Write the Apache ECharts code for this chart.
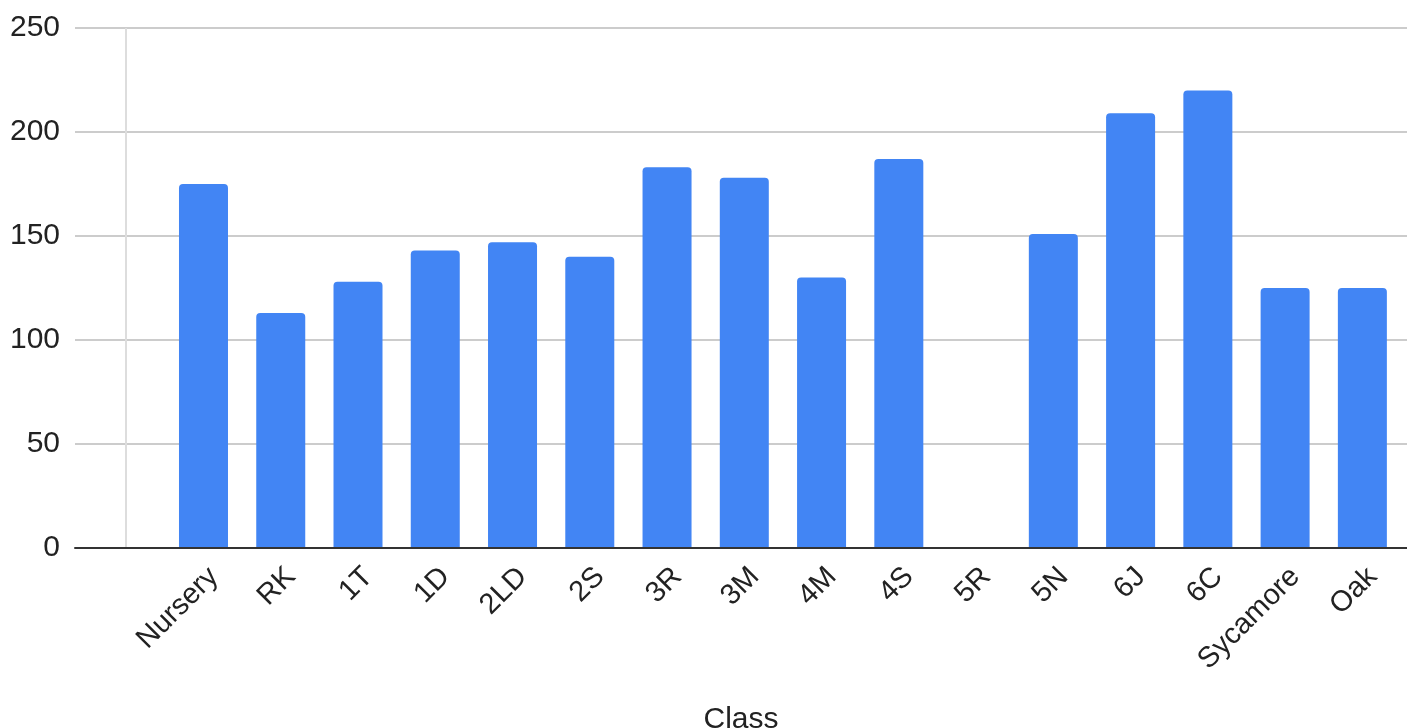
<!DOCTYPE html>
<html>
<head>
<meta charset="utf-8">
<script src="https://cdn.jsdelivr.net/npm/echarts@6/dist/echarts.min.js"></script>
<style>
html,body{margin:0;padding:0;background:#fff;}
#chart{width:1407px;height:728px;}
</style>
</head>
<body>
<div id="chart"></div>
<script>
const categories = ["", "Nursery", "RK", "1T", "1D", "2LD", "2S", "3R", "3M", "4M", "4S", "5R", "5N", "6J", "6C", "Sycamore", "Oak"];
const values = [null, 175, 113, 128, 143, 147, 140, 183, 178, 130, 187, 0, 151, 209, 220, 125, 125];
const yTicks = { min: 0, max: 250, interval: 50 };
const xTitle = "Class";

const FONT = "'Liberation Sans', Arial, sans-serif";
const FS = 30;
const chart = echarts.init(document.getElementById('chart'));
chart.setOption({
  animation: false,
  backgroundColor: '#ffffff',
  grid: [
    { left: 75, right: 0, top: 28, bottom: 180, containLabel: false, outerBoundsMode: 'none' },
    { left: 87.6, right: 6, top: 28, bottom: 180, containLabel: false, outerBoundsMode: 'none' }
  ],
  xAxis: [
    {
      gridIndex: 0, type: 'value', min: 0, max: 1,
      axisLine: { show: true, onZero: false, lineStyle: { color: '#333', width: 2 } },
      axisTick: { show: false }, axisLabel: { show: false }, splitLine: { show: false },
      name: xTitle, nameLocation: 'middle', nameGap: 157,
      nameTextStyle: { fontFamily: FONT, fontSize: FS, color: '#222' },
      z: 5
    },
    {
      gridIndex: 1, type: 'category', data: categories, boundaryGap: true,
      axisLine: { show: false }, axisTick: { show: false },
      axisLabel: { interval: 0, rotate: 45, margin: 14, verticalAlign: 'top', fontFamily: FONT, fontSize: 29, color: '#222' }
    }
  ],
  yAxis: [
    {
      gridIndex: 0, type: 'value', min: yTicks.min, max: yTicks.max, interval: yTicks.interval,
      axisLine: { show: false }, axisTick: { show: false },
      axisLabel: { margin: 15, fontFamily: FONT, fontSize: FS, color: '#222' },
      splitLine: { show: true, lineStyle: { color: '#cccccc', width: 2 } }
    },
    {
      gridIndex: 1, type: 'value', min: yTicks.min, max: yTicks.max, interval: yTicks.interval,
      show: false, splitLine: { show: false }
    }
  ],
  series: [
    {
      type: 'bar', xAxisIndex: 1, yAxisIndex: 1, data: values, barWidth: 49,
      itemStyle: { color: '#4285F4', borderRadius: [4, 4, 0, 0] },
      markLine: {
        silent: true, symbol: 'none', label: { show: false },
        lineStyle: { color: '#dddddd', type: 'solid', width: 2 },
        data: [{ xAxis: 0 }]
      }
    }
  ]
});
</script>
</body>
</html>
